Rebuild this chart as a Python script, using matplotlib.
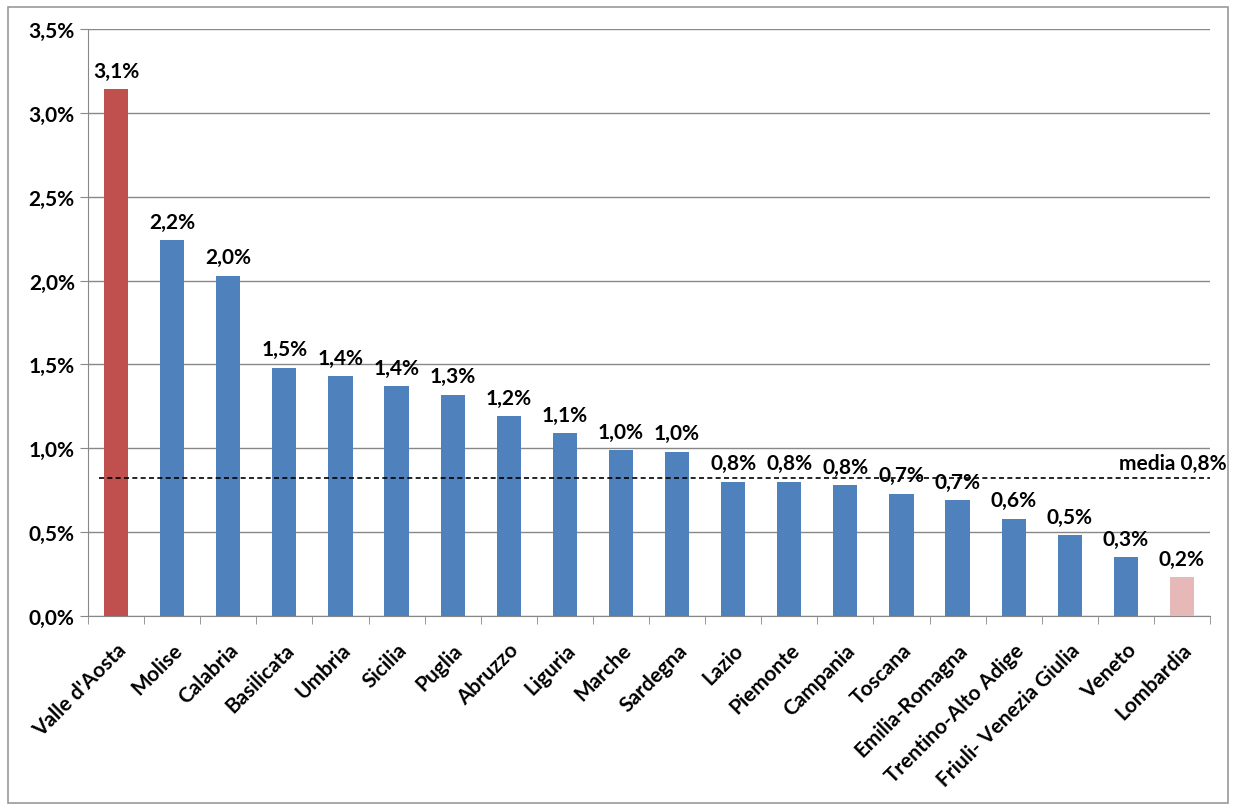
import matplotlib.pyplot as plt
from matplotlib.patches import Rectangle
from matplotlib.ticker import FuncFormatter, FixedLocator

regions = ["Valle d'Aosta", "Molise", "Calabria", "Basilicata", "Umbria", "Sicilia",
           "Puglia", "Abruzzo", "Liguria", "Marche", "Sardegna", "Lazio", "Piemonte",
           "Campania", "Toscana", "Emilia-Romagna", "Trentino-Alto Adige",
           "Friuli- Venezia Giulia", "Veneto", "Lombardia"]
values = [3.14, 2.24, 2.03, 1.48, 1.43, 1.37, 1.32, 1.19, 1.09, 0.99, 0.98,
          0.80, 0.80, 0.78, 0.73, 0.69, 0.58, 0.48, 0.35, 0.23]
labels = ["3,1%", "2,2%", "2,0%", "1,5%", "1,4%", "1,4%", "1,3%", "1,2%", "1,1%",
          "1,0%", "1,0%", "0,8%", "0,8%", "0,8%", "0,7%", "0,7%", "0,6%", "0,5%",
          "0,3%", "0,2%"]
media = 0.82
media_label = "media 0,8%"

plt.rcParams["font.family"] = ["Lato", "DejaVu Sans"]
plt.rcParams["font.weight"] = "bold"
fs = 15

colors = ["#4F81BD"] * len(values)
colors[0] = "#C0504D"
colors[-1] = "#E6B9B8"

fig = plt.figure(figsize=(12.38, 8.12), dpi=100)
ax = fig.add_axes([88 / 1238, 1 - 617 / 812, (1210 - 88) / 1238, (617 - 30) / 812])

x = range(len(values))
ax.bar(x, values, width=0.43, color=colors, zorder=3)
for i, (v, lab) in enumerate(zip(values, labels)):
    ax.text(i, v + 0.05, lab, ha="center", va="bottom", fontsize=fs, fontweight="bold")

ax.plot([-0.3, len(values) - 0.5], [media, media], ls="--", color="black", lw=1.2,
        dashes=(3, 2), zorder=4)
ax.text(len(values) - 0.2, media + 0.03, media_label, ha="right", va="bottom",
        fontsize=fs, fontweight="bold")

ax.set_xlim(-0.5, len(values) - 0.5)
ax.set_ylim(0, 3.5)
ax.set_yticks([i * 0.5 for i in range(8)])
ax.yaxis.set_major_formatter(FuncFormatter(lambda v, p: f"{v:.1f}%".replace(".", ",")))
ax.yaxis.grid(True, color="#888888", lw=1, zorder=0)
ax.set_axisbelow(True)

ax.set_xticks(list(x))
ax.set_xticklabels(regions, rotation=45, ha="right", rotation_mode="anchor")
ax.xaxis.set_major_locator(FixedLocator(list(x)))
ax.tick_params(axis="x", length=0, pad=17, labelsize=fs)
ax.xaxis.set_minor_locator(FixedLocator([i - 0.5 for i in range(len(values) + 1)]))
ax.tick_params(axis="x", which="minor", length=6, color="#888888")
ax.tick_params(axis="y", length=6, color="#888888", labelsize=fs)

for s in ["top", "right"]:
    ax.spines[s].set_visible(False)
ax.spines["left"].set_color("#888888")
ax.spines["bottom"].set_color("#888888")

fig.patches.append(Rectangle((8 / 1238, 8 / 812), 1220 / 1238, 796 / 812,
                             transform=fig.transFigure, fill=False,
                             edgecolor="#999999", lw=1.2))

fig.savefig("out.png", dpi=100)
